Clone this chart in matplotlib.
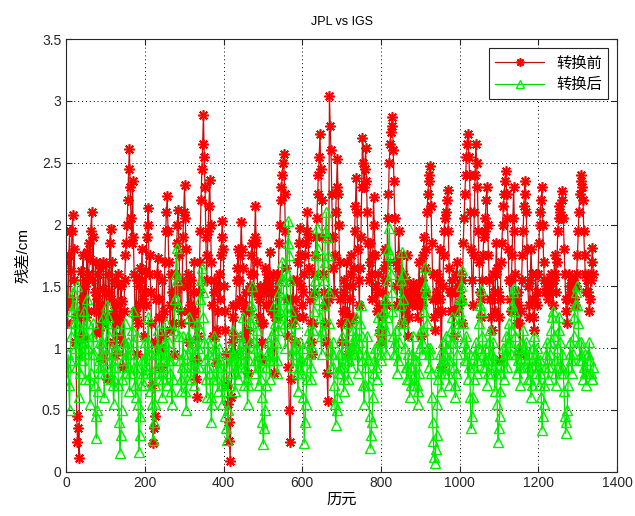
import numpy as np
import matplotlib
matplotlib.use("Agg")
import matplotlib.pyplot as plt

plt.rcParams['font.family'] = ['Liberation Sans', 'Noto Sans CJK SC', 'DejaVu Sans']

# residuals before transformation (cm), one value every 2 epochs
before = [
    1.70, 1.20, 1.35, 1.75, 1.95, 1.40, 1.62, 1.95, 2.08, 1.55, 1.80, 1.05, 1.25, 0.45, 0.24, 0.35, 0.11, 1.30, 1.62, 1.10,
    1.40, 1.75, 1.08, 1.50, 1.55, 1.25, 1.78, 1.60, 1.30, 1.85, 1.72, 1.95, 2.10, 1.55, 1.90, 1.30, 1.45, 1.70, 1.12, 1.40,
    1.60, 1.15, 1.35, 1.65, 0.92, 1.20, 1.48, 1.70, 1.25, 1.45, 1.68, 1.25, 0.75, 1.60, 1.45, 1.85, 1.96, 1.40, 1.70, 1.05,
    1.30, 1.55, 0.94, 1.35, 1.20, 1.60, 1.52, 1.25, 1.10, 1.50, 1.38, 1.05, 0.85, 1.30, 1.55, 1.75, 1.85, 2.00, 2.20, 2.45,
    2.61, 2.30, 2.05, 1.85, 2.35, 1.90, 1.60, 1.30, 1.25, 1.55, 0.95, 1.20, 1.50, 1.65, 1.35, 1.55, 1.80, 1.40, 1.10, 1.45,
    1.62, 1.35, 1.90, 2.00, 2.13, 1.60, 1.75, 1.45, 1.20, 0.70, 0.23, 0.35, 0.45, 1.05, 1.40, 1.60, 1.73, 1.40, 1.25, 1.00,
    0.85, 1.25, 1.55, 1.10, 1.30, 1.70, 1.95, 2.10, 2.23, 1.95, 1.70, 1.35, 1.15, 1.60, 1.45, 1.20, 0.95, 1.35, 1.60, 1.45,
    1.85, 2.00, 2.12, 1.75, 1.50, 1.30, 1.20, 1.55, 1.90, 2.10, 2.32, 2.05, 1.80, 1.50, 1.30, 1.60, 1.05, 1.35, 1.55, 1.25,
    1.20, 1.45, 1.70, 1.30, 0.90, 0.75, 0.60, 1.10, 1.45, 1.70, 1.95, 2.20, 2.45, 2.65, 2.89, 2.55, 2.30, 1.90, 1.55, 1.75,
    1.95, 2.15, 2.36, 2.00, 1.70, 1.35, 1.10, 1.55, 1.45, 1.10, 0.88, 1.15, 1.30, 1.50, 1.60, 1.40, 1.75, 1.90, 2.03, 1.80,
    1.50, 1.30, 1.15, 0.95, 0.70, 0.55, 0.40, 0.25, 0.09, 0.60, 1.05, 1.25, 1.35, 1.10, 0.95, 1.35, 1.55, 1.65, 1.80, 1.55,
    1.40, 1.75, 2.02, 1.80, 1.65, 1.35, 1.10, 1.30, 1.45, 1.15, 0.80, 1.05, 1.30, 1.50, 1.60, 1.75, 1.85, 1.60, 1.45, 1.90,
    2.15, 1.85, 1.70, 1.45, 1.25, 1.40, 1.50, 1.20, 0.90, 1.05, 1.20, 1.45, 1.65, 1.50, 1.35, 1.60, 1.55, 1.35, 1.78, 1.50,
    1.30, 1.45, 1.60, 1.30, 0.80, 1.25, 1.45, 1.60, 1.25, 1.55, 1.85, 2.00, 2.20, 2.30, 2.40, 2.50, 2.57, 2.25, 1.95, 1.65,
    1.40, 1.10, 0.85, 0.50, 0.24, 0.75, 1.20, 1.40, 1.55, 1.30, 1.05, 1.25, 1.40, 1.55, 1.70, 1.85, 1.97, 1.75, 1.50, 1.35,
    1.25, 1.45, 1.60, 1.75, 1.85, 1.95, 2.10, 1.90, 1.65, 1.40, 1.20, 1.05, 0.95, 1.20, 1.45, 1.60, 1.75, 1.90, 2.05, 2.25,
    2.40, 2.55, 2.73, 2.45, 2.20, 1.90, 1.60, 1.45, 1.35, 1.20, 1.05, 0.80, 0.57, 1.40, 3.04, 2.80, 2.60, 2.25, 1.90, 1.65,
    1.45, 1.75, 2.10, 2.30, 2.53, 2.25, 2.00, 1.70, 1.40, 1.20, 1.05, 1.30, 1.55, 1.45, 1.30, 1.50, 1.70, 1.25, 0.95, 1.20,
    1.40, 1.60, 1.75, 1.50, 1.25, 1.65, 1.95, 2.15, 2.38, 2.10, 1.80, 1.55, 1.35, 1.65, 1.90, 2.30, 2.70, 2.50, 2.30, 2.45,
    2.62, 2.35, 2.10, 1.85, 1.55, 1.70, 1.85, 1.60, 1.40, 1.75, 2.22, 2.00, 1.75, 1.50, 1.30, 1.45, 1.60, 1.35, 1.15, 1.10,
    1.05, 1.25, 1.45, 1.65, 1.80, 1.55, 1.35, 1.70, 2.05, 2.25, 2.50, 2.65, 2.75, 2.80, 2.87, 2.60, 2.35, 2.05, 1.70, 1.50,
    1.35, 1.65, 1.95, 1.75, 1.55, 1.35, 1.20, 1.40, 1.60, 1.45, 1.30, 1.55, 1.75, 1.40, 1.10, 1.25, 1.40, 1.45, 1.50, 1.35,
    1.53, 1.45, 1.38, 1.50, 1.45, 1.35, 1.25, 1.50, 1.70, 1.40, 1.10, 1.35, 1.55, 1.75, 1.90, 1.65, 1.45, 1.80, 2.10, 2.25,
    2.35, 2.40, 2.47, 2.15, 1.85, 1.60, 1.40, 1.25, 1.15, 1.40, 1.60, 1.45, 1.30, 1.55, 1.80, 1.40, 0.85, 1.30, 1.50, 1.75,
    1.95, 2.05, 2.10, 2.20, 2.28, 1.95, 1.65, 1.45, 1.30, 1.45, 1.55, 1.30, 1.10, 1.30, 1.45, 1.60, 1.70, 1.50, 1.35, 1.45,
    1.60, 1.40, 1.20, 1.55, 1.85, 2.05, 2.25, 2.40, 2.55, 2.65, 2.73, 2.55, 2.40, 2.10, 1.80, 1.55, 1.35, 1.75, 2.10, 2.40,
    2.65, 2.50, 2.30, 1.95, 1.70, 1.45, 1.25, 1.40, 1.55, 1.75, 1.90, 1.95, 2.05, 2.20, 2.30, 2.00, 1.75, 1.55, 1.40, 1.25,
    1.15, 1.40, 1.60, 1.45, 1.30, 1.60, 1.85, 1.65, 1.45, 1.25, 0.90, 1.40, 1.70, 1.85, 2.00, 2.15, 2.25, 2.35, 2.43, 2.25,
    2.05, 1.80, 1.55, 1.40, 1.30, 1.55, 1.75, 2.05, 2.30, 1.95, 1.60, 1.40, 1.20, 1.35, 1.45, 1.20, 0.95, 1.30, 1.55, 1.75,
    1.95, 2.15, 2.35, 2.25, 2.10, 1.80, 1.50, 1.35, 1.25, 1.55, 1.80, 1.60, 1.40, 1.25, 1.15, 1.40, 1.60, 1.45, 1.35, 1.60,
    1.85, 2.00, 2.10, 2.20, 2.30, 2.00, 1.70, 1.55, 1.45, 1.50, 1.55, 1.45, 1.40, 1.45, 1.50, 1.55, 1.60, 1.45, 1.35, 1.55,
    1.75, 1.60, 1.45, 1.70, 1.95, 2.05, 2.15, 2.10, 2.05, 2.20, 2.27, 2.05, 1.80, 1.60, 1.40, 1.30, 1.20, 1.40, 1.60, 1.50,
    1.45, 1.50, 1.55, 1.55, 1.50, 1.40, 1.35, 1.50, 1.60, 1.75, 1.95, 2.10, 2.25, 2.35, 2.40, 2.30, 2.20, 1.95, 1.75, 1.60,
    1.45, 1.55, 1.60, 1.45, 1.30, 1.40, 1.55, 1.70, 1.81, 1.60,
]

# residuals after transformation (cm), same epochs
after = [
    0.75, 0.85, 0.95, 0.70, 0.50, 0.90, 1.10, 1.30, 1.45, 1.35, 1.20, 1.00, 0.85, 1.20, 1.50, 1.05, 0.60, 0.80, 1.05, 0.95,
    0.90, 1.15, 1.30, 1.00, 0.75, 1.10, 1.40, 1.20, 1.00, 0.75, 0.55, 0.80, 0.95, 1.10, 1.20, 0.95, 0.70, 0.45, 0.27, 0.50,
    0.65, 0.90, 1.05, 0.85, 0.80, 1.05, 1.25, 0.95, 0.60, 0.80, 0.95, 1.20, 1.35, 1.25, 1.10, 0.90, 0.75, 0.85, 1.00, 0.70,
    0.55, 0.75, 0.85, 1.00, 1.15, 0.95, 0.70, 0.40, 0.15, 0.30, 0.50, 0.75, 0.90, 1.05, 1.20, 1.00, 0.80, 0.95, 1.05, 0.85,
    0.65, 0.80, 0.95, 1.15, 1.30, 1.05, 0.85, 0.70, 0.60, 0.85, 1.10, 0.55, 0.16, 0.30, 0.45, 0.70, 0.90, 0.80, 0.70, 0.90,
    1.05, 0.95, 0.80, 1.05, 1.25, 0.95, 0.65, 0.80, 0.95, 0.55, 0.26, 0.40, 0.55, 0.70, 0.85, 1.00, 1.15, 0.95, 0.75, 0.85,
    1.00, 0.80, 0.60, 0.75, 0.90, 1.05, 1.20, 0.95, 0.70, 0.90, 1.05, 0.90, 0.80, 0.65, 0.55, 0.75, 0.95, 1.15, 1.40, 1.60,
    1.81, 1.55, 1.35, 1.10, 0.90, 0.75, 0.65, 0.85, 1.10, 0.95, 0.85, 0.65, 0.50, 0.75, 0.95, 1.10, 1.25, 1.00, 0.75, 0.90,
    1.05, 0.85, 0.70, 0.85, 0.95, 1.10, 1.20, 1.00, 0.85, 1.15, 1.40, 1.55, 1.65, 1.45, 1.25, 1.05, 0.90, 0.75, 0.60, 0.85,
    1.05, 0.95, 0.80, 0.60, 0.40, 0.55, 0.75, 0.95, 1.10, 1.00, 0.90, 0.75, 0.65, 0.85, 1.00, 0.90, 0.85, 0.70, 0.55, 0.75,
    0.90, 0.65, 0.45, 0.35, 0.26, 0.50, 0.70, 0.85, 1.00, 0.90, 0.80, 0.95, 1.15, 0.90, 0.65, 0.80, 0.95, 0.85, 0.75, 0.95,
    1.10, 0.95, 0.85, 1.05, 1.25, 0.95, 0.70, 0.85, 1.00, 0.75, 0.55, 0.70, 0.90, 1.05, 1.20, 1.35, 1.50, 1.25, 1.05, 0.90,
    0.80, 1.00, 1.15, 0.90, 0.70, 0.85, 0.95, 0.75, 0.60, 0.40, 0.22, 0.35, 0.50, 0.70, 0.85, 0.95, 1.05, 0.90, 0.75, 0.95,
    1.10, 1.00, 0.90, 1.15, 1.35, 1.20, 1.05, 0.90, 0.80, 1.15, 1.45, 1.30, 1.20, 1.55, 1.70, 1.55, 1.40, 1.20, 1.00, 1.30,
    1.60, 1.85, 2.03, 1.75, 1.55, 1.30, 1.10, 0.95, 0.85, 1.00, 1.20, 1.05, 0.95, 0.80, 0.65, 0.85, 1.05, 0.90, 0.80, 0.90,
    1.00, 0.60, 0.23, 0.40, 0.55, 0.75, 0.90, 1.05, 1.15, 0.95, 0.75, 0.85, 1.00, 1.15, 1.30, 1.45, 1.55, 1.75, 1.97, 1.80,
    1.60, 1.40, 1.25, 1.10, 0.95, 1.15, 1.35, 1.55, 1.70, 1.95, 2.10, 1.90, 1.75, 1.45, 1.20, 1.00, 0.85, 0.95, 1.05, 0.85,
    0.70, 0.55, 0.38, 0.50, 0.60, 0.80, 0.95, 0.85, 0.80, 0.95, 1.10, 0.85, 0.65, 0.75, 0.90, 1.05, 1.20, 0.95, 0.75, 0.90,
    1.00, 0.95, 0.85, 1.00, 1.15, 1.05, 0.95, 1.10, 1.25, 1.00, 0.80, 0.95, 1.05, 1.20, 1.35, 1.10, 0.90, 0.70, 0.55, 0.70,
    0.85, 0.95, 1.10, 0.90, 0.70, 0.45, 0.19, 0.30, 0.40, 0.60, 0.80, 0.90, 1.00, 0.85, 0.75, 1.00, 1.25, 1.15, 1.05, 0.95,
    0.90, 1.05, 1.20, 1.30, 1.40, 1.15, 0.95, 1.25, 1.55, 1.80, 1.97, 1.75, 1.60, 1.45, 1.30, 1.10, 0.95, 1.05, 1.15, 0.95,
    0.80, 0.90, 1.05, 1.20, 1.35, 1.55, 1.78, 1.60, 1.40, 1.20, 1.00, 0.85, 0.75, 0.85, 0.95, 0.75, 0.60, 0.70, 0.85, 0.95,
    1.10, 0.90, 0.70, 0.80, 0.90, 0.70, 0.55, 0.65, 0.80, 1.00, 1.15, 1.05, 0.95, 1.15, 1.30, 1.50, 1.66, 1.45, 1.20, 1.00,
    0.85, 0.95, 1.00, 0.80, 0.60, 0.40, 0.25, 0.12, 0.07, 0.18, 0.30, 0.55, 0.75, 0.85, 0.95, 0.80, 0.65, 0.85, 1.05, 0.90,
    0.80, 0.95, 1.10, 1.00, 0.90, 0.80, 0.70, 0.90, 1.05, 1.15, 1.25, 1.05, 0.85, 0.70, 0.60, 0.80, 0.95, 1.10, 1.20, 1.30,
    1.40, 1.50, 1.63, 1.40, 1.20, 1.05, 0.90, 1.00, 1.10, 0.90, 0.75, 0.85, 0.95, 0.60, 0.35, 0.45, 0.60, 0.75, 0.85, 0.95,
    1.05, 0.90, 0.80, 1.00, 1.20, 1.35, 1.47, 1.30, 1.10, 0.95, 0.85, 0.90, 1.00, 0.85, 0.70, 0.80, 0.90, 1.05, 1.15, 0.95,
    0.80, 0.95, 1.05, 0.85, 0.65, 0.80, 0.90, 0.55, 0.24, 0.35, 0.45, 0.65, 0.80, 0.90, 1.00, 0.85, 0.75, 0.95, 1.10, 0.95,
    0.85, 1.05, 1.20, 1.05, 0.95, 1.15, 1.35, 1.45, 1.49, 1.30, 1.10, 0.95, 0.80, 0.90, 1.00, 0.85, 0.70, 0.85, 0.95, 1.05,
    1.15, 1.00, 0.85, 0.95, 1.05, 0.90, 0.75, 0.85, 0.95, 0.75, 0.60, 0.70, 0.85, 1.00, 1.10, 0.95, 0.80, 0.90, 1.00, 0.85,
    0.70, 0.80, 0.90, 0.60, 0.34, 0.45, 0.55, 0.70, 0.85, 0.95, 1.05, 0.90, 0.75, 0.85, 0.95, 1.05, 1.15, 1.25, 1.30, 1.10,
    0.90, 0.80, 0.70, 0.85, 1.00, 1.15, 1.25, 1.05, 0.80, 0.85, 0.95, 0.80, 0.65, 0.45, 0.31, 0.40, 0.50, 0.70, 0.85, 0.95,
    1.05, 0.90, 0.80, 0.95, 1.10, 1.25, 1.35, 1.45, 1.50, 1.35, 1.20, 1.05, 0.90, 0.95, 1.05, 0.90, 0.75, 0.85, 0.95, 0.80,
    0.70, 0.80, 0.90, 0.95, 1.05, 0.90, 0.80, 0.75, 0.75, 0.85,
]

epochs = np.arange(len(before)) * 2 + 1

series_names = ['转换前', '转换后']
title = 'JPL vs IGS'
xlabel = '历元'
ylabel = '残差/cm'
xticks = [0, 200, 400, 600, 800, 1000, 1200, 1400]
yticks = [0, 0.5, 1, 1.5, 2, 2.5, 3, 3.5]
ytick_labels = ['0', '0.5', '1', '1.5', '2', '2.5', '3', '3.5']

fig = plt.figure(figsize=(6.35, 5.16), dpi=100)
ax = fig.add_axes([0.104, 0.086, 0.868, 0.838])

asterisk = (8, 2, 0)
ax.plot(epochs, before, '-', color='#c01010', lw=0.9, marker=asterisk,
        ms=7.5, mec='#ff0000', mew=1.2, label=series_names[0])
ax.plot(epochs[:len(after)], after, '-', color='#00e000', lw=0.9, marker='^',
        ms=7.5, mec='#00ee00', mfc='none', mew=1.0, label=series_names[1])

ax.set_xlim(0, 1400)
ax.set_ylim(0, 3.5)
ax.set_xticks(xticks)
ax.set_yticks(yticks)
ax.set_yticklabels(ytick_labels)
ax.tick_params(direction='in', top=True, right=True, labelsize=10,
               colors='#262626', length=4)
ax.grid(True, linestyle=(0, (1, 3)), color='black', lw=0.7)
for s in ax.spines.values():
    s.set_color('#262626')
    s.set_linewidth(0.8)

ax.set_title(title, fontsize=9, pad=10)
ax.set_xlabel(xlabel, fontsize=11, labelpad=2)
ax.set_ylabel(ylabel, fontsize=11, labelpad=8)

leg = ax.legend(loc='upper right', fontsize=11, frameon=True, fancybox=False,
                edgecolor='#262626', borderaxespad=0.6, handlelength=3.2,
                labelspacing=0.3, borderpad=0.4, framealpha=1, markerscale=0.8)
leg.get_frame().set_linewidth(0.8)
for t in leg.get_texts():
    t.set_family(['Noto Sans CJK SC', 'DejaVu Sans'])

fig.savefig('out.png', dpi=100, facecolor='white')
